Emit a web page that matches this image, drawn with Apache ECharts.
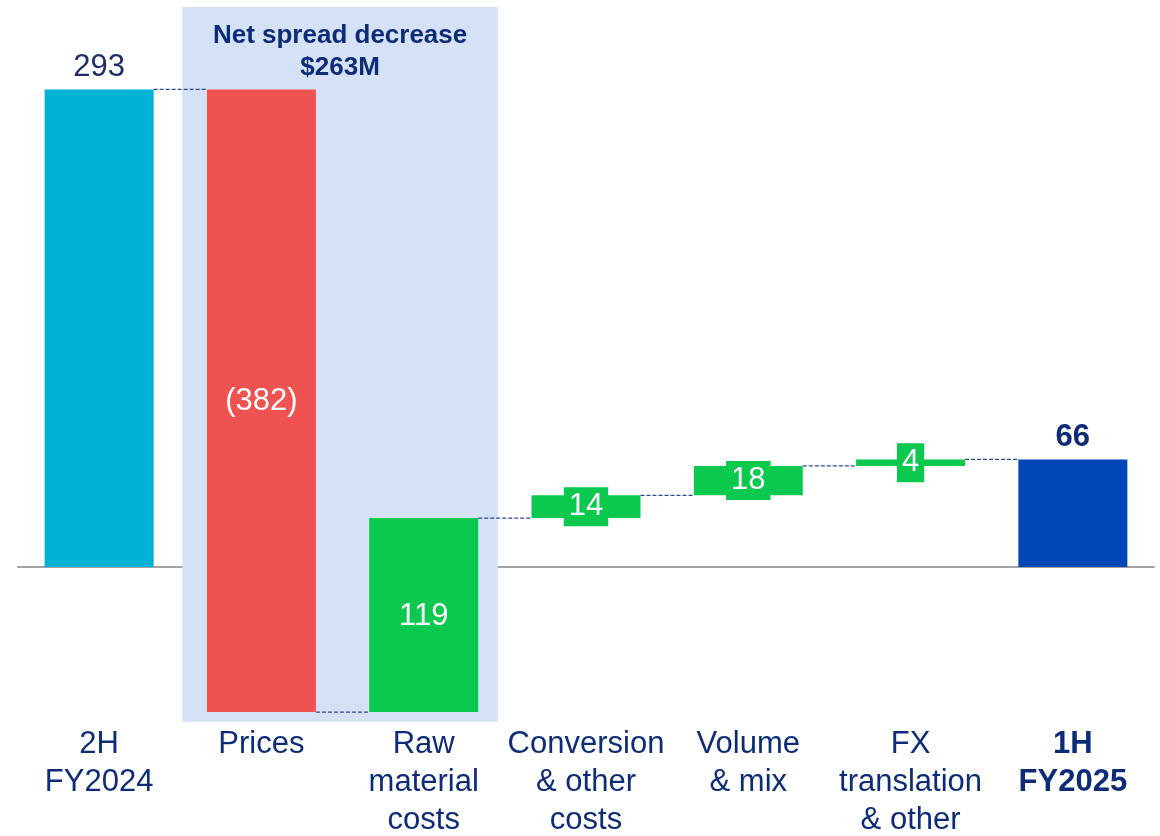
<!DOCTYPE html>
<html>
<head>
<meta charset="utf-8">
<script src="https://cdn.jsdelivr.net/npm/echarts@6/dist/echarts.min.js"></script>
<style>
  html, body { margin: 0; padding: 0; background: #fff; }
  #chart { width: 1160px; height: 836px; }
</style>
</head>
<body>
<div id="chart"></div>
<script>
// categories and values
const categories = ['2H\nFY2024', 'Prices', 'Raw\nmaterial\ncosts', 'Conversion\n& other\ncosts', 'Volume\n& mix', 'FX\ntranslation\n& other', '1H\nFY2025'];
const changes = [293, -382, 119, 14, 18, 4, 66];
const kinds = ['total', 'delta', 'delta', 'delta', 'delta', 'delta', 'total'];
const valueLabels = ['293', '(382)', '119', '14', '18', '4', '66'];
const shadeCats = [1, 2];
const shadeText = 'Net spread decrease\n$263M';

const FONT = '"Liberation Sans", Arial, sans-serif';
const NAVY = '#0d2c78';
const colors = { first: '#00b2d3', down: '#ef5351', up: '#0bc84f', last: '#0046b6' };

// build start/end for every bar
let running = 0;
const bars = changes.map((v, i) => {
  let start, end;
  if (kinds[i] === 'total') { start = 0; end = v; }
  else { start = running; end = running + v; }
  running = end;
  return [i, start, end];
});

function barColor(i) {
  if (i === 0) return colors.first;
  if (i === categories.length - 1) return colors.last;
  return changes[i] < 0 ? colors.down : colors.up;
}

const chart = echarts.init(document.getElementById('chart'));

chart.setOption({
  animation: false,
  grid: { left: 18, right: 6, top: 78, bottom: 106, containLabel: false, outerBoundsMode: 'none' },
  xAxis: [
    {
      type: 'category', data: categories,
      axisLine: { onZero: true, lineStyle: { color: '#a3a3a3', width: 2 } },
      axisTick: { show: false }, axisLabel: { show: false }
    },
    {
      type: 'category', data: categories, position: 'bottom',
      axisLine: { show: false, onZero: false }, axisTick: { show: false },
      axisLabel: {
        interval: 0, margin: -5,
        fontFamily: FONT, fontSize: 31, lineHeight: 38, color: NAVY,
        formatter: (v, i) => i === categories.length - 1 ? '{b|' + v.split('\n').join('}\n{b|') + '}' : v,
        rich: { b: { fontFamily: FONT, fontSize: 31, lineHeight: 38, color: NAVY, fontWeight: 'bold' } }
      }
    }
  ],
  yAxis: { type: 'value', min: -100, max: 300, show: false, splitLine: { show: false } },
  series: [
    {
      // shaded "net spread" block behind prices + raw material
      type: 'custom', z: 1, clip: false,
      data: [shadeCats],
      renderItem: (params, api) => {
        const band = api.size([1, 0])[0];
        const x0 = api.coord([api.value(0), 0])[0] - band / 2 + 2;
        const x1 = api.coord([api.value(1), 0])[0] + band / 2 - 7;
        const y0 = 7;
        const y1 = api.coord([0, -95])[1];
        return {
          type: 'group',
          children: [
            { type: 'rect', shape: { x: x0, y: y0, width: x1 - x0, height: y1 - y0 }, style: { fill: '#d5e1f4' } },
            {
              type: 'text',
              style: {
                text: shadeText, x: (x0 + x1) / 2, y: 20, align: 'center', verticalAlign: 'top',
                font: 'bold 26px ' + FONT, lineHeight: 32, fill: NAVY
              }
            }
          ]
        };
      }
    },
    {
      type: 'custom', z: 3, clip: false,
      data: bars,
      renderItem: (params, api) => {
        const i = api.value(0);
        const start = api.value(1), end = api.value(2);
        const band = api.size([1, 0])[0];
        const bw = 109;
        const cx = api.coord([i, 0])[0];
        const yA = api.coord([i, start])[1];
        const yB = api.coord([i, end])[1];
        const top = Math.min(yA, yB), h = Math.abs(yA - yB);
        const children = [
          { type: 'rect', shape: { x: cx - bw / 2, y: top, width: bw, height: h }, style: { fill: barColor(i) } }
        ];
        // connector to the next bar
        if (i < categories.length - 1) {
          children.push({
            type: 'line',
            shape: { x1: cx + bw / 2, y1: yB, x2: cx + band - bw / 2, y2: yB },
            style: { stroke: '#2c4a8e', lineWidth: 1.3, lineDash: [4, 2] }
          });
        }
        // value label
        const last = i === categories.length - 1;
        if (kinds[i] === 'total') {
          children.push({
            type: 'text',
            style: {
              text: valueLabels[i], x: cx, y: top - 22, align: 'center', verticalAlign: 'middle',
              font: (last ? 'bold ' : '') + '31px ' + FONT, fill: last ? NAVY : '#1c2d6a'
            }
          });
        } else if (h > 60) {
          children.push({
            type: 'text',
            style: {
              text: valueLabels[i], x: cx, y: top + h / 2 + 1, align: 'center', verticalAlign: 'middle',
              font: '31px ' + FONT, fill: '#fff'
            }
          });
        } else {
          children.push({
            type: 'text',
            style: {
              text: valueLabels[i], x: cx, y: top + h / 2, align: 'center', verticalAlign: 'middle',
              font: '31px ' + FONT, fill: '#fff', backgroundColor: barColor(i), padding: [4, 5, 4, 5]
            }
          });
        }
        return { type: 'group', children };
      }
    }
  ]
});
</script>
</body>
</html>
